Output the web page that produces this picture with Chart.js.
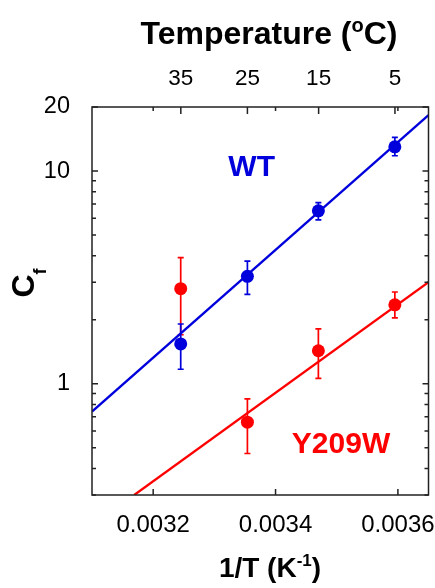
<!DOCTYPE html>
<html>
<head>
<meta charset="utf-8">
<script src="https://cdn.jsdelivr.net/npm/chart.js@4.4.1/dist/chart.umd.min.js"></script>
<style>
  html, body { margin: 0; padding: 0; background: #fff; }
  #wrap { width: 435px; height: 588px; }
</style>
</head>
<body>
<div id="wrap"><canvas id="myChart" width="435" height="588"></canvas></div>
<script>
// values
const invT = [0.003245, 0.003354, 0.003470, 0.003595];
const wtCf = [1.54, 3.20, 6.50, 13.0];
const wtLo = [1.17, 2.63, 5.90, 11.8];
const wtHi = [1.91, 3.77, 7.11, 14.4];
const y209wCf = [2.80, 0.66, 1.43, 2.35];
const y209wLo = [1.70, 0.47, 1.06, 2.04];
const y209wHi = [3.92, 0.85, 1.81, 2.70];

// fitted lines (end points)
const wtFitX = [0.0031, 0.00365];
const wtFitY = [0.74, 18.3];
const y209wFitX = [0.003169, 0.00365];
const y209wFitY = [0.30, 3.0];

// axes
const xTicks = [0.0032, 0.0034, 0.0036];
const topTempC = [35, 25, 15, 5];
const yTickLabels = [1, 10, 20];
const yMinorTicks = [0.3, 0.4, 0.5, 0.6, 0.7, 0.8, 0.9, 2, 3, 4, 5, 6, 7, 8, 9];

const FONT = "'Liberation Sans', Arial, sans-serif";
const BLUE = "rgb(0,0,220)";
const RED = "rgb(255,0,0)";

const topTicks = topTempC.map(t => 1 / (t + 273.15));

function toPoints(xs, ys) {
    return xs.map((x, i) => ({ x: x, y: ys[i] }));
}

const errorBars = {
    id: "errorBars",
    beforeDatasetsDraw(chart) {
        const ctx = chart.ctx;
        const xs = chart.scales.x;
        const ys = chart.scales.y;
        const sets = [[y209wLo, y209wHi, RED], [wtLo, wtHi, BLUE]];
        ctx.save();
        sets.forEach(([lo, hi, col]) => {
            ctx.strokeStyle = col;
            ctx.lineWidth = 1.7;
            invT.forEach((x, i) => {
                const px = xs.getPixelForValue(x);
                const p1 = ys.getPixelForValue(lo[i]);
                const p2 = ys.getPixelForValue(hi[i]);
                ctx.beginPath();
                ctx.moveTo(px, p1); ctx.lineTo(px, p2);
                ctx.moveTo(px - 3, p1); ctx.lineTo(px + 3, p1);
                ctx.moveTo(px - 3, p2); ctx.lineTo(px + 3, p2);
                ctx.stroke();
            });
        });
        ctx.restore();
    }
};

function richText(ctx, parts, x, y, angle) {
    ctx.save();
    ctx.translate(x, y);
    ctx.rotate(angle || 0);
    let total = 0;
    parts.forEach(p => {
        ctx.font = "bold " + p.size + "px " + FONT;
        p.w = ctx.measureText(p.text).width;
        total += p.w;
    });
    let cx = -total / 2;
    ctx.textBaseline = "alphabetic";
    ctx.textAlign = "left";
    parts.forEach(p => {
        ctx.font = "bold " + p.size + "px " + FONT;
        ctx.fillText(p.text, cx, p.dy || 0);
        cx += p.w;
    });
    ctx.restore();
}

const frame = {
    id: "frame",
    afterDatasetsDraw(chart) {
        const ctx = chart.ctx;
        const a = chart.chartArea;
        const xs = chart.scales.x;
        const ys = chart.scales.y;
        ctx.save();
        ctx.strokeStyle = "#222";
        ctx.lineWidth = 1.5;
        ctx.strokeRect(a.left, a.top, a.right - a.left, a.bottom - a.top);
        ctx.beginPath();
        // left / right ticks
        yTickLabels.forEach(v => {
            const py = ys.getPixelForValue(v);
            ctx.moveTo(a.left, py); ctx.lineTo(a.left + 6, py);
            ctx.moveTo(a.right, py); ctx.lineTo(a.right - 6, py);
        });
        yMinorTicks.forEach(v => {
            const py = ys.getPixelForValue(v);
            ctx.moveTo(a.left, py); ctx.lineTo(a.left + 4, py);
            ctx.moveTo(a.right, py); ctx.lineTo(a.right - 4, py);
        });
        // bottom ticks and their mirror
        xTicks.forEach(v => {
            const px = xs.getPixelForValue(v);
            ctx.moveTo(px, a.bottom); ctx.lineTo(px, a.bottom - 6);
            ctx.moveTo(px, a.top); ctx.lineTo(px, a.top + 4);
        });
        // temperature ticks on top
        topTicks.forEach(v => {
            const px = xs.getPixelForValue(v);
            ctx.moveTo(px, a.top); ctx.lineTo(px, a.top + 7);
        });
        ctx.stroke();

        // labels inside the plot
        ctx.font = "bold 30px " + FONT;
        ctx.textAlign = "center";
        ctx.textBaseline = "middle";
        ctx.fillStyle = BLUE;
        ctx.fillText("WT", xs.getPixelForValue(0.003361), ys.getPixelForValue(10.4));
        ctx.fillStyle = RED;
        ctx.fillText("Y209W", xs.getPixelForValue(0.003507), ys.getPixelForValue(0.515));

        // axis titles
        ctx.fillStyle = "#000";
        richText(ctx, [
            { text: "Temperature (", size: 32 },
            { text: "o", size: 20, dy: -12 },
            { text: "C)", size: 32 }
        ], 269, 44);
        richText(ctx, [
            { text: "1/T (K", size: 28 },
            { text: "-1", size: 17, dy: -11 },
            { text: ")", size: 28 }
        ], 270, 577);
        richText(ctx, [
            { text: "C", size: 32 },
            { text: "f", size: 18, dy: 12 }
        ], 34, 283, -Math.PI / 2);
        ctx.restore();
    }
};

function noSidePad(s) {
    s.paddingLeft = 0;
    s.paddingRight = 0;
}

const ctx = document.getElementById("myChart").getContext("2d");

const config = {
    type: "scatter",
    data: {
        datasets: [
            {
                label: "WT",
                data: toPoints(invT, wtCf),
                backgroundColor: BLUE,
                borderColor: BLUE,
                pointRadius: 6.5,
                pointBorderWidth: 0
            },
            {
                label: "WT fit",
                data: toPoints(wtFitX, wtFitY),
                showLine: true,
                borderColor: BLUE,
                borderWidth: 2.3,
                pointRadius: 0
            },
            {
                label: "Y209W",
                data: toPoints(invT, y209wCf),
                backgroundColor: RED,
                borderColor: RED,
                pointRadius: 6.5,
                pointBorderWidth: 0
            },
            {
                label: "Y209W fit",
                data: toPoints(y209wFitX, y209wFitY),
                showLine: true,
                borderColor: RED,
                borderWidth: 2.3,
                pointRadius: 0
            }
        ]
    },
    options: {
        responsive: false,
        animation: false,
        layout: { padding: { left: 0, right: 6, top: 0, bottom: 0 } },
        plugins: { legend: { display: false }, tooltip: { enabled: false } },
        scales: {
            x: {
                type: "linear",
                position: "bottom",
                min: 0.0031,
                max: 0.00365,
                grid: { display: false },
                border: { display: false },
                afterBuildTicks: s => { s.ticks = xTicks.map(v => ({ value: v })); },
                afterFit: s => { s.height = 93; noSidePad(s); },
                ticks: {
                    font: { family: FONT, size: 24 },
                    color: "#000",
                    padding: 8,
                    maxRotation: 0,
                    callback: v => v.toFixed(4)
                }
            },
            xTop: {
                type: "linear",
                position: "top",
                min: 0.0031,
                max: 0.00365,
                grid: { display: false },
                border: { display: false },
                afterBuildTicks: s => { s.ticks = topTicks.map(v => ({ value: v })); },
                afterFit: s => { s.height = 107; noSidePad(s); },
                ticks: {
                    font: { family: FONT, size: 22.5 },
                    color: "#000",
                    padding: 7,
                    maxRotation: 0,
                    callback: (v, i) => String(topTempC[i])
                }
            },
            y: {
                type: "logarithmic",
                min: 0.3,
                max: 20,
                grid: { display: false },
                border: { display: false },
                afterBuildTicks: s => { s.ticks = yTickLabels.map(v => ({ value: v })); },
                afterFit: s => { s.width = 92; s.paddingTop = 0; s.paddingBottom = 0; },
                ticks: {
                    font: { family: FONT, size: 23.5 },
                    color: "#000",
                    padding: 14,
                    callback: v => String(v)
                }
            }
        }
    },
    plugins: [errorBars, frame]
};

const myChart = new Chart(ctx, config);
</script>
</body>
</html>
